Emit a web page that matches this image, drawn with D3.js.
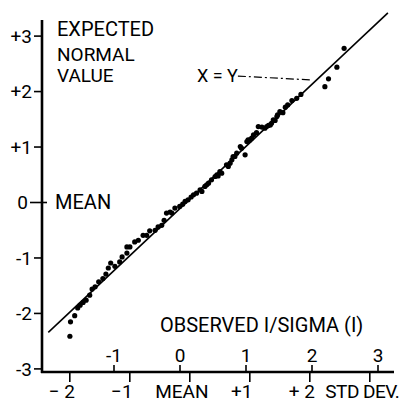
<!DOCTYPE html>
<html>
<head>
<meta charset="utf-8">
<script src="https://cdn.jsdelivr.net/npm/d3@7"></script>
<style>
body { margin: 0; background: #fff; }
svg text { font-family: Roboto, "Liberation Sans", sans-serif; fill: #000; }
</style>
</head>
<body>
<svg width="400" height="406"></svg>
<script>
// I. Données

// axe vertical : valeur normale attendue
let yTicks = [-3, -2, -1, 0, 1, 2, 3];
let yLabels = ["-3", "-2", "-1", "0", "+1", "+2", "+3"];

// axe du bas : écart type
let basTicks = [-2, -1, 0, 1, 2, 3];
let basLabels = ["\u2212 2", "\u22121", "MEAN", "+1", "+ 2", ""];

// axe du haut : I/sigma(I) observé
let hautTicks = [-1, 0, 1, 2, 3];
let hautLabels = ["-1", "0", "1", "2", "3"];

// points (écart observé, valeur normale attendue)
let ecartObs = [
    -1.99, -1.98, -1.91, -1.86, -1.82, -1.77, -1.72, -1.66, -1.62, -1.57,
    -1.51, -1.44, -1.39, -1.35, -1.31, -1.24, -1.16, -1.12, -1.04, -0.99,
    -1.04, -0.91, -0.85, -0.77, -0.71, -0.66, -0.57, -0.52, -0.46, -0.42,
    -0.38, -0.32, -0.29, -0.24, -0.16, -0.11, -0.07, -0.02, 0.03, 0.07,
    0.12, 0.18, 0.21, 0.26, 0.29, 0.32, 0.37, 0.43, 0.46, 0.48,
    0.51, 0.54, 0.62, 0.65, 0.68, 0.71, 0.73, 0.76, 0.79, 0.85,
    0.87, 0.93, 0.96, 0.98, 1.01, 1.04, 1.07, 1.12, 1.15, 1.21,
    1.26, 1.29, 1.32, 1.35, 1.37, 1.40, 1.43, 1.46, 1.47, 1.51,
    1.56, 1.60, 1.64, 1.71, 1.79, 1.86, 2.26, 2.32, 2.46, 2.58
];
let valeurNormale = [
    -2.42, -2.16, -2.05, -1.91, -1.86, -1.81, -1.77, -1.68, -1.57, -1.53,
    -1.44, -1.38, -1.30, -1.19, -1.10, -1.16, -1.08, -0.99, -0.92, -0.81,
    -0.81, -0.72, -0.69, -0.60, -0.60, -0.52, -0.51, -0.45, -0.42, -0.33,
    -0.20, -0.18, -0.20, -0.11, -0.08, -0.04, 0.01, 0.04, 0.09, 0.13,
    0.16, 0.22, 0.19, 0.28, 0.31, 0.34, 0.40, 0.46, 0.49, 0.47,
    0.55, 0.52, 0.67, 0.64, 0.70, 0.76, 0.82, 0.82, 0.88, 1.00,
    0.97, 0.85, 1.09, 1.12, 1.12, 1.15, 1.21, 1.25, 1.36, 1.35,
    1.33, 1.36, 1.38, 1.39, 1.42, 1.48, 1.47, 1.54, 1.57, 1.63,
    1.61, 1.71, 1.75, 1.83, 1.87, 1.94, 2.08, 2.22, 2.43, 2.77
];

// droite X = Y tracée à la main (extrémités)
let droiteX = [-2.35, 3.31];
let droiteY = [-2.35, 3.41];

// trait pointillé qui relie l'étiquette à la droite
let renvoiX = [0.81, 2.04];
let renvoiY = [2.27, 2.20];

// II. Dessin

let svg = d3.select("svg");

let x = d3.scaleLinear().domain([-2, 3]).range([69.3, 369.3]);
let xHaut = d3.scaleLinear().domain([-1, 3]).range([113.5, 377.5]);
let y = d3.scaleLinear().domain([-3, 3]).range([368.4, 35.6]);

let points = ecartObs.map((d, i) => ({ x: d, y: valeurNormale[i] }));

// axe vertical
let axeY = svg.append("g")
    .attr("transform", "translate(42,0)")
    .call(d3.axisLeft(y)
        .tickValues(yTicks)
        .tickFormat((d, i) => yLabels[i])
        .tickSize(8)
        .tickPadding(2));
axeY.select(".domain").remove();
axeY.selectAll("line").attr("stroke-width", 1.6);
axeY.selectAll("text").style("font-size", "19px").attr("dy", "0.36em");
// le zéro traverse l'axe
axeY.selectAll(".tick").filter(d => d == 0).select("line").attr("x2", 5).attr("x1", -12);
axeY.selectAll(".tick").filter(d => d == 0).select("text").attr("x", -14);

// axe du haut (au dessus de la ligne)
let axeHaut = svg.append("g")
    .attr("transform", "translate(0,372)")
    .call(d3.axisTop(xHaut)
        .tickValues(hautTicks)
        .tickFormat((d, i) => hautLabels[i])
        .tickSize(7)
        .tickPadding(3));
axeHaut.select(".domain").remove();
axeHaut.selectAll("line").attr("stroke-width", 1.6);
axeHaut.selectAll("text").style("font-size", "19px");

// axe du bas (sous la ligne)
let axeBas = svg.append("g")
    .attr("transform", "translate(0,372)")
    .call(d3.axisBottom(x)
        .tickValues(basTicks)
        .tickFormat((d, i) => basLabels[i])
        .tickSize(10)
        .tickPadding(3));
axeBas.select(".domain").remove();
axeBas.selectAll("line").attr("stroke-width", 1.6);
axeBas.selectAll("text").style("font-size", "19px").attr("dx", -8);

svg.append("text")
    .attr("x", x(2) + 16)
    .attr("y", 398)
    .style("font-size", "19px")
    .style("letter-spacing", "-0.5px")
    .text("STD DEV.");

// lignes des axes
svg.append("line")
    .attr("x1", 42).attr("y1", 20)
    .attr("x2", 42).attr("y2", 373)
    .attr("stroke", "black")
    .attr("stroke-width", 2.6);

svg.append("line")
    .attr("x1", 41).attr("y1", 372)
    .attr("x2", 394).attr("y2", 372)
    .attr("stroke", "black")
    .attr("stroke-width", 2.6);

// titres
svg.append("text")
    .attr("x", 57).attr("y", 36)
    .style("font-size", "20px")
    .text("EXPECTED");
svg.append("text")
    .attr("x", 57).attr("y", 61)
    .style("font-size", "19px")
    .text("NORMAL");
svg.append("text")
    .attr("x", 57).attr("y", 82)
    .style("font-size", "19px")
    .text("VALUE");

svg.append("text")
    .attr("x", 55).attr("y", y(0) + 7)
    .style("font-size", "20px")
    .text("MEAN");

svg.append("text")
    .attr("x", 160).attr("y", 332)
    .style("font-size", "20px")
    .text("OBSERVED I/SIGMA (I)");

// droite X = Y
svg.append("line")
    .attr("x1", x(droiteX[0])).attr("y1", y(droiteY[0]))
    .attr("x2", x(droiteX[1])).attr("y2", y(droiteY[1]))
    .attr("stroke", "black")
    .attr("stroke-width", 1.6);

svg.append("text")
    .attr("x", x(renvoiX[0]) - 41)
    .attr("y", y(renvoiY[0]) + 6)
    .style("font-size", "18px")
    .text("X = Y");

svg.append("line")
    .attr("x1", x(renvoiX[0])).attr("y1", y(renvoiY[0]))
    .attr("x2", x(renvoiX[1])).attr("y2", y(renvoiY[1]))
    .attr("stroke", "black")
    .attr("stroke-width", 1.2)
    .attr("stroke-dasharray", "8,3,2,3");

// points
svg.selectAll("circle")
    .data(points)
    .enter()
    .append("circle")
    .attr("cx", d => x(d.x))
    .attr("cy", d => y(d.y))
    .attr("r", 2.6)
    .style("fill", "black");
</script>
</body>
</html>
